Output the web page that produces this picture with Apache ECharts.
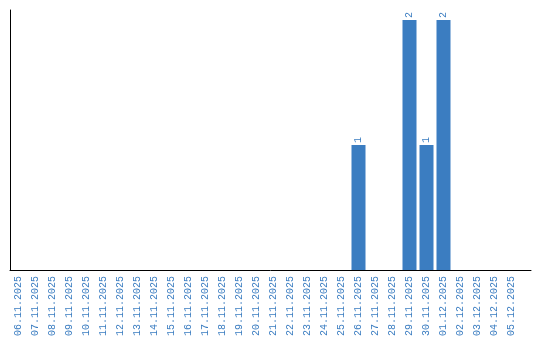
<!DOCTYPE html>
<html>
<head>
<meta charset="utf-8">
<script src="https://cdn.jsdelivr.net/npm/echarts@6/dist/echarts.min.js"></script>
<style>html,body{margin:0;padding:0;background:#fff}#c{width:540px;height:340px}</style>
</head>
<body>
<div id="c"></div>
<script>
var categories = ["06.11.2025","07.11.2025","08.11.2025","09.11.2025","10.11.2025","11.11.2025","12.11.2025","13.11.2025","14.11.2025","15.11.2025","16.11.2025","17.11.2025","18.11.2025","19.11.2025","20.11.2025","21.11.2025","22.11.2025","23.11.2025","24.11.2025","25.11.2025","26.11.2025","27.11.2025","28.11.2025","29.11.2025","30.11.2025","01.12.2025","02.12.2025","03.12.2025","04.12.2025","05.12.2025"];
var values = [0,0,0,0,0,0,0,0,0,0,0,0,0,0,0,0,0,0,0,0,1,0,0,2,1,2,0,0,0,0];

var blue = '#3b7dc1';
var chart = echarts.init(document.getElementById('c'), null, {renderer:'canvas'});
chart.setOption({
  animation: false,
  grid: [
    {left: 10, top: 10, width: 510, bottom: 70},
    {left: 10, top: 10, right: 9, bottom: 70}
  ],
  xAxis: [
    {
      type: 'category', gridIndex: 0, data: categories,
      axisLine: {show: false},
      axisTick: {show: false},
      axisLabel: {rotate: 90, interval: 0, color: blue, fontFamily: 'Liberation Mono', fontSize: 10, margin: 6}
    },
    {
      type: 'value', gridIndex: 1, min: 0, max: 1,
      axisLine: {show: true, onZero: false, lineStyle: {color: '#000', width: 1}},
      axisTick: {show: false}, axisLabel: {show: false}, splitLine: {show: false}
    }
  ],
  yAxis: [
    {
      type: 'value', gridIndex: 0, min: 0, max: 2.08,
      axisLine: {show: true, lineStyle: {color: '#000', width: 1}},
      axisTick: {show: false}, axisLabel: {show: false}, splitLine: {show: false}
    },
    {type: 'value', gridIndex: 1, show: false, min: 0, max: 1}
  ],
  series: [{
    type: 'bar', xAxisIndex: 0, yAxisIndex: 0,
    data: values, barWidth: 14,
    itemStyle: {color: blue},
    label: {
      show: true, position: 'top', rotate: 90, align: 'left', verticalAlign: 'middle',
      distance: 2, color: blue, fontFamily: 'Liberation Mono', fontSize: 10,
      formatter: function(p){ return p.value ? String(p.value) : ''; }
    }
  }]
});
</script>
</body>
</html>
